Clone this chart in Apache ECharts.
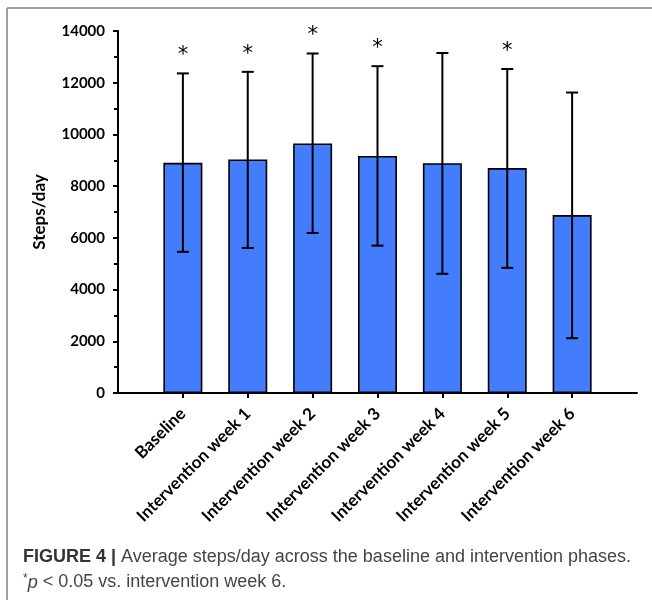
<!DOCTYPE html>
<html>
<head>
<meta charset="utf-8">
<script src="https://cdn.jsdelivr.net/npm/echarts@6/dist/echarts.min.js"></script>
<style>html,body{margin:0;padding:0;background:#fff}#c{width:652px;height:600px}</style>
</head>
<body>
<div id="c"></div>
<script>
// ---- data ----
var categories = ['Baseline', 'Intervention week 1', 'Intervention week 2', 'Intervention week 3',
                  'Intervention week 4', 'Intervention week 5', 'Intervention week 6'];
var means   = [8900, 9030, 9650, 9170, 8890, 8700, 6880];
var errLow  = [5460, 5610, 6190, 5700, 4610, 4840, 2120];
var errHigh = [12360, 12420, 13130, 12640, 13150, 12530, 11620];
var stars   = ['*', '*', '*', '*', '', '*', ''];
var yTicks  = [0, 2000, 4000, 6000, 8000, 10000, 12000, 14000];
var yName   = 'Steps/day';
var captionBold = 'FIGURE 4 |';
var captionText = ' Average steps/day across the baseline and intervention phases.';
var captionLine2 = ['*', 'p', ' < 0.05 vs. intervention week 6.'];

// category axis padded with an empty slot on each side (bars sit on points 1..7)
var axisCats = [''].concat(categories).concat(['']);
var barData = ['-'].concat(means).concat(['-']);
var errData = categories.map(function (c, i) {
  return [i + 1, errLow[i], errHigh[i], stars[i]];
});

var chart = echarts.init(document.getElementById('c'), null, {renderer: 'canvas'});
var FONT = 'Lato, "Open Sans", sans-serif';
var CAP = '"Liberation Sans", Arial, sans-serif';

chart.setOption({
  animation: false,
  backgroundColor: '#ffffff',
  grid: {left: 118, right: 15, top: 31, bottom: 207, containLabel: false},
  xAxis: {
    type: 'category',
    data: axisCats,
    boundaryGap: false,
    axisLine: {lineStyle: {color: '#000', width: 2}},
    axisTick: {
      show: true, length: 5, lineStyle: {color: '#000', width: 2},
      interval: function (idx) { return idx >= 1 && idx <= categories.length; }
    },
    axisLabel: {
      interval: 0, rotate: 45, margin: 18,
      color: '#000', fontFamily: FONT, fontWeight: 'bold', fontSize: 17
    },
    splitLine: {show: false}
  },
  yAxis: {
    type: 'value',
    min: yTicks[0], max: yTicks[yTicks.length - 1], interval: 2000,
    name: yName, nameLocation: 'middle', nameGap: 70, nameRotate: 90,
    nameTextStyle: {color: '#000', fontFamily: FONT, fontWeight: 'bold', fontSize: 17},
    axisLine: {show: true, lineStyle: {color: '#000', width: 2}},
    axisTick: {show: true, length: 5, lineStyle: {color: '#000', width: 2}},
    minorTick: {show: true, splitNumber: 2, length: 4, lineStyle: {color: '#000', width: 2}},
    axisLabel: {
      color: '#000', fontFamily: FONT, fontWeight: 'bold', fontSize: 15, margin: 13,
      formatter: function (v) { return String(v); }
    },
    splitLine: {show: false}
  },
  series: [
    {
      type: 'bar',
      data: barData,
      barWidth: 39,
      itemStyle: {color: '#447DFB', borderColor: '#000', borderWidth: 1.6},
      z: 2
    },
    {
      type: 'custom',
      data: errData,
      z: 5,
      renderItem: function (params, api) {
        var x = api.value(0);
        var lo = api.coord([x, api.value(1)]);
        var hi = api.coord([x, api.value(2)]);
        var half = 6;
        var st = {stroke: '#000', lineWidth: 2};
        var children = [
          {type: 'line', shape: {x1: hi[0], y1: hi[1], x2: lo[0], y2: lo[1]}, style: st},
          {type: 'line', shape: {x1: hi[0] - half, y1: hi[1], x2: hi[0] + half, y2: hi[1]}, style: st},
          {type: 'line', shape: {x1: lo[0] - half, y1: lo[1], x2: lo[0] + half, y2: lo[1]}, style: st}
        ];
        var s = api.value(3);
        if (s && s !== '-') {
          children.push({
            type: 'text',
            style: {
              text: s, x: hi[0], y: hi[1] - 7,
              align: 'center', verticalAlign: 'bottom',
              fill: '#000', font: '21px "DejaVu Sans", sans-serif'
            }
          });
        }
        return {type: 'group', children: children};
      }
    }
  ],
  graphic: [
    {type: 'line', shape: {x1: 7, y1: 8, x2: 652, y2: 8}, style: {stroke: '#808080', lineWidth: 1.5}},
    {type: 'line', shape: {x1: 7, y1: 8, x2: 7, y2: 600}, style: {stroke: '#808080', lineWidth: 1.5}},
    {
      type: 'text', left: 23, top: 548,
      style: {
        rich: {
          b: {fontFamily: CAP, fontWeight: 'bold', fontSize: 18, fill: '#333'},
          n: {fontFamily: CAP, fontSize: 18, fill: '#444'}
        },
        text: '{b|' + captionBold + '}{n|' + captionText + '}'
      }
    },
    {
      type: 'text', left: 23, top: 573,
      style: {
        rich: {
          s: {fontFamily: CAP, fontSize: 12, fill: '#444', verticalAlign: 'top', padding: [0, 0, 7, 0]},
          i: {fontFamily: CAP, fontStyle: 'italic', fontSize: 18, fill: '#444'},
          n: {fontFamily: CAP, fontSize: 18, fill: '#444'}
        },
        text: '{s|' + captionLine2[0] + '}{i|' + captionLine2[1] + '}{n|' + captionLine2[2] + '}'
      }
    }
  ]
});
</script>
</body>
</html>
